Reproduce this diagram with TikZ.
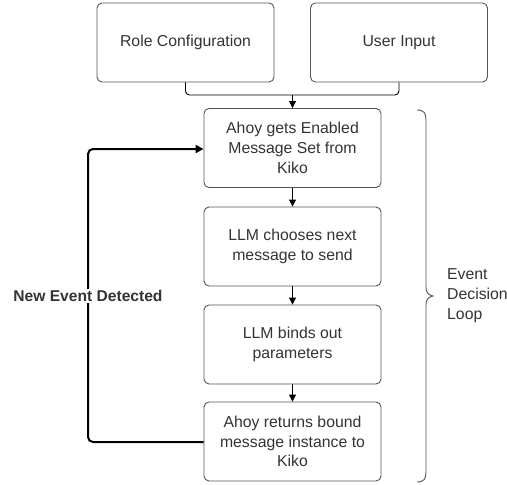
\documentclass[tikz,border=0pt]{standalone}
\usepackage{fontspec}
\setmainfont{Liberation Sans}
\usetikzlibrary{arrows.meta}
\definecolor{ink}{HTML}{333333}
\definecolor{edge}{HTML}{555555}
\begin{document}
\begin{tikzpicture}[x=1pt,y=-1pt,
  box/.style={draw=edge,line width=0.9pt,rounded corners=5pt,minimum width=177pt,minimum height=79pt,
    align=center,text=ink,font=\fontsize{15.8}{19.8}\selectfont,inner sep=0pt},
  flow/.style={draw=black,line width=0.9pt,rounded corners=4pt,-{Triangle[length=7pt,width=7pt]}},
  loopline/.style={draw=black,line width=2pt,rounded corners=5pt,-{Triangle[length=8pt,width=8pt]}}]
\useasboundingbox (0,0) rectangle (507,485);
\clip (0,0) rectangle (507,485);
% input boxes
\node[box] (role) at (185.5,42.5) {Role Configuration};
\node[box] (user) at (399,42.5) {User Input};
% loop steps
\node[box] (s1) at (292.5,148) {Ahoy gets Enabled\\Message Set from\\Kiko};
\node[box] (s2) at (292.5,246.5) {LLM chooses next\\message to send};
\node[box] (s3) at (292.5,344.5) {LLM binds out\\parameters};
\node[box] (s4) at (292.5,441.5) {Ahoy returns bound\\message instance to\\Kiko};
% merge of the two inputs
\coordinate (m) at (292.5,95);
\draw[draw=black,line width=0.9pt,rounded corners=4pt] (role.south) |- (m);
\draw[draw=black,line width=0.9pt,rounded corners=4pt] (user.south) |- (m);
\draw[flow] (m) -- (s1.north);
\draw[flow] (s1) -- (s2);
\draw[flow] (s2) -- (s3);
\draw[flow] (s3) -- (s4);
% feedback loop
\coordinate (lb) at (88,442);
\coordinate (lt) at (88,149);
\draw[loopline] (s4.west |- lb) -- (lb) -- (lt) -- (s1.west |- lt);
\node[fill=white,text=ink,font=\bfseries\fontsize{15.6}{18}\selectfont,inner sep=1pt] (ned) at (88,296) {New Event Detected};
% brace around the loop
\draw[draw=edge,line width=0.9pt] (417,110) .. controls (424,110) and (426,113) .. (426,120)
  -- (426,287) .. controls (426,292) and (428,295) .. (433,296)
  .. controls (428,297) and (426,300) .. (426,305)
  -- (426,472) .. controls (426,479) and (424,482) .. (417,482);
\node[anchor=west,align=left,text=ink,font=\fontsize{15.8}{19.8}\selectfont,inner sep=0pt] (edl) at (447,296) {Event\\Decision\\Loop};
\end{tikzpicture}
\end{document}
